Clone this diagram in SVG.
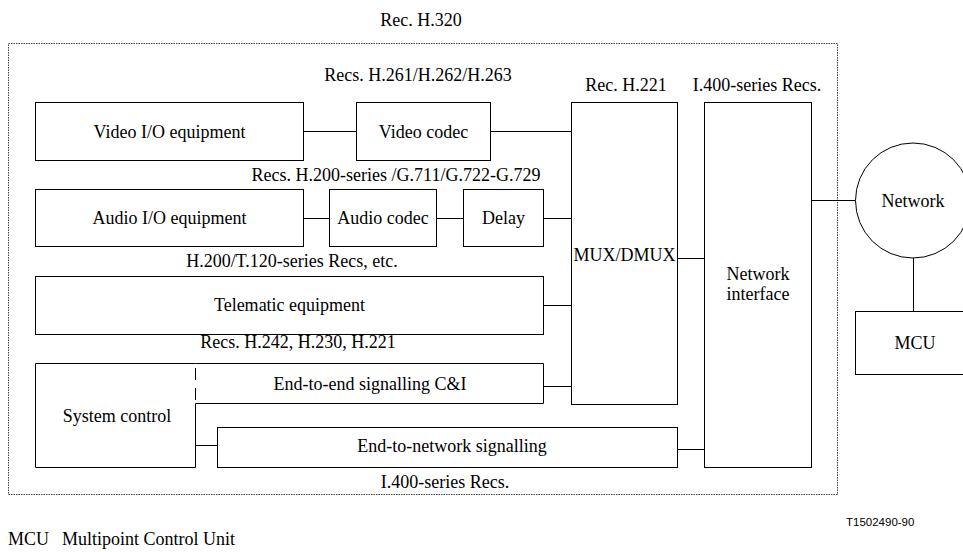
<svg xmlns="http://www.w3.org/2000/svg" width="963" height="552" viewBox="0 0 963 552">
  <style>
    .box { fill: #fff; stroke: #000; stroke-width: 1; }
    .edge { fill: none; stroke: #000; stroke-width: 1; }
    .lbl { font-family: "Liberation Serif", "Times New Roman", serif; font-size: 18px; fill: #000; }
    .mid { text-anchor: middle; }
    .code { font-family: "Liberation Sans", Arial, sans-serif; font-size: 11.5px; fill: #000; }
  </style>
  <rect width="963" height="552" fill="#fff"/>

  <!-- terminal boundary -->
  <g id="terminal-boundary">
    <rect x="8.5" y="43.5" width="829" height="451" fill="none" stroke="#444" stroke-width="1" stroke-dasharray="1.5,1"/>
    <text class="lbl mid" x="421" y="26">Rec. H.320</text>
    <text class="lbl mid" x="445" y="488">I.400-series Recs.</text>
  </g>

  <!-- group labels -->
  <g id="labels">
    <text class="lbl mid" x="418" y="81">Recs. H.261/H.262/H.263</text>
    <text class="lbl mid" x="626" y="91">Rec. H.221</text>
    <text class="lbl mid" x="757" y="91">I.400-series Recs.</text>
    <text class="lbl mid" x="396" y="181">Recs. H.200-series /G.711/G.722-G.729</text>
    <text class="lbl mid" x="292" y="267">H.200/T.120-series Recs, etc.</text>
    <text class="lbl mid" x="298" y="348">Recs. H.242, H.230, H.221</text>
  </g>

  <!-- connectors -->
  <g id="connectors" class="edge">
    <line x1="303.5" y1="131.5" x2="356.5" y2="131.5"/>
    <line x1="490.5" y1="131.5" x2="571.5" y2="131.5"/>
    <line x1="303.5" y1="218.5" x2="329.5" y2="218.5"/>
    <line x1="436.5" y1="218.5" x2="463.5" y2="218.5"/>
    <line x1="543.5" y1="218.5" x2="571.5" y2="218.5"/>
    <line x1="543.5" y1="305.5" x2="571.5" y2="305.5"/>
    <line x1="543.5" y1="386.5" x2="571.5" y2="386.5"/>
    <line x1="677.5" y1="258.5" x2="704.5" y2="258.5"/>
    <line x1="677.5" y1="449.5" x2="704.5" y2="449.5"/>
    <line x1="195.5" y1="445.5" x2="217.5" y2="445.5"/>
    <line x1="811.5" y1="200.5" x2="855.5" y2="200.5"/>
    <line x1="913.5" y1="258" x2="913.5" y2="311.5"/>
  </g>

  <g id="video-io">
    <rect class="box" x="35.5" y="102.5" width="268" height="58"/>
    <text class="lbl mid" x="169.5" y="137.5">Video I/O equipment</text>
  </g>
  <g id="video-codec">
    <rect class="box" x="356.5" y="102.5" width="134" height="58"/>
    <text class="lbl mid" x="423.5" y="137.5">Video codec</text>
  </g>
  <g id="audio-io">
    <rect class="box" x="35.5" y="189.5" width="268" height="57"/>
    <text class="lbl mid" x="169.5" y="224">Audio I/O equipment</text>
  </g>
  <g id="audio-codec">
    <rect class="box" x="329.5" y="189.5" width="107" height="57"/>
    <text class="lbl mid" x="383" y="224">Audio codec</text>
  </g>
  <g id="delay">
    <rect class="box" x="463.5" y="189.5" width="80" height="57"/>
    <text class="lbl mid" x="503.5" y="224">Delay</text>
  </g>
  <g id="telematic">
    <rect class="box" x="35.5" y="276.5" width="508" height="58"/>
    <text class="lbl mid" x="289.5" y="311">Telematic equipment</text>
  </g>
  <g id="mux-dmux">
    <rect class="box" x="571.5" y="102.5" width="106" height="302"/>
    <text class="lbl mid" x="624.5" y="261">MUX/DMUX</text>
  </g>
  <g id="network-interface">
    <rect class="box" x="704.5" y="102.5" width="107" height="365"/>
    <text class="lbl mid" x="758" y="280">Network</text>
    <text class="lbl mid" x="758" y="300">interface</text>
  </g>
  <g id="system-control">
    <path class="edge" d="M195.5,363.5 H35.5 V467.5 H195.5 V403.5"/>
    <text class="lbl mid" x="117" y="422">System control</text>
  </g>
  <g id="end-to-end-signalling">
    <path class="edge" d="M195.5,363.5 H543.5 V403.5 H195.5"/>
    <line x1="195.5" y1="368" x2="195.5" y2="400" stroke="#000" stroke-width="1" stroke-dasharray="12,8"/>
    <text class="lbl mid" x="370" y="390">End-to-end signalling C&amp;I</text>
  </g>
  <g id="end-to-network-signalling">
    <rect class="box" x="217.5" y="427.5" width="460" height="40"/>
    <text class="lbl mid" x="452" y="452">End-to-network signalling</text>
  </g>
  <g id="network">
    <circle class="box" cx="913" cy="200.5" r="57.5"/>
    <text class="lbl mid" x="913" y="207">Network</text>
  </g>
  <g id="mcu">
    <rect class="box" x="855.5" y="311.5" width="120" height="63"/>
    <text class="lbl mid" x="915" y="349">MCU</text>
  </g>

  <!-- footnotes -->
  <g id="footer">
    <text class="code" x="846" y="526">T1502490-90</text>
    <text class="lbl" x="8" y="545">MCU</text>
    <text class="lbl" x="62" y="545">Multipoint Control Unit</text>
  </g>
</svg>
